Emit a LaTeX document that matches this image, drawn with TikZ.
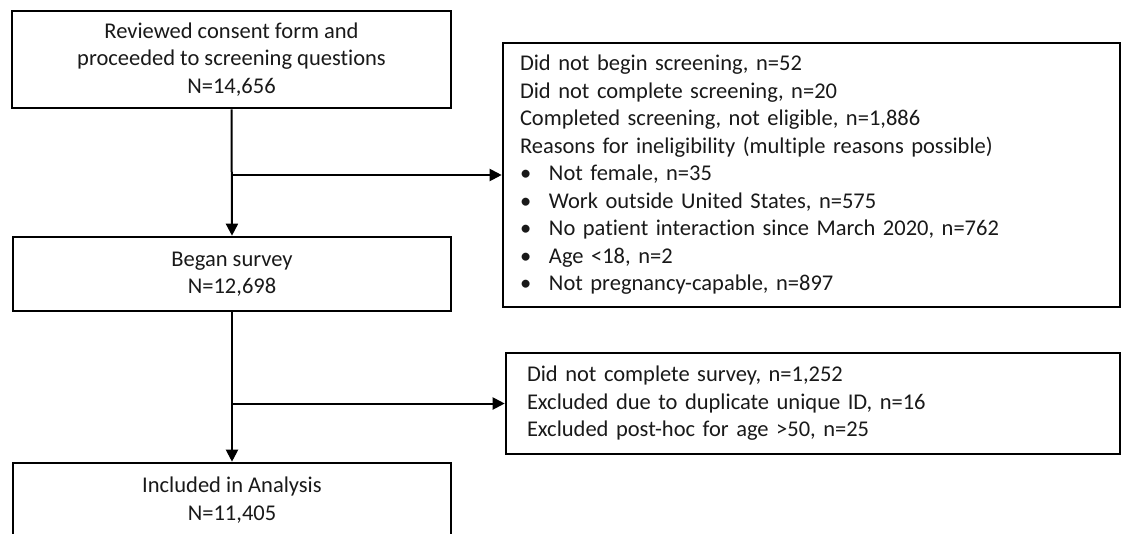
\documentclass[tikz,border=0pt]{standalone}
\usepackage{fontspec}
\setmainfont{Carlito}[Ligatures={NoCommon}]
\usetikzlibrary{arrows.meta}
\begin{document}
\begin{tikzpicture}[x=1pt,y=-1pt,
  box/.style={draw=black,line width=2.6pt,inner sep=0pt,text=black!90,font=\fontsize{22.5}{27.5}\selectfont},
  cbox/.style={box,align=center},
  lbox/.style={box,align=left,text width=#1},
  conn/.style={line width=2pt,draw=black},
  arr/.style={conn,-{Triangle[length=12pt,width=12pt]}}]
\useasboundingbox (0,0) rectangle (1122,533);
\node[cbox,minimum width=439pt,minimum height=97pt] (b1) at (231.5,59.5)
  {Reviewed consent form and\\proceeded to screening questions\\N=14,656};
\node[cbox,minimum width=438pt,minimum height=74pt] (b2) at (232,274)
  {Began survey\\N=12,698};
\node[cbox,minimum width=438pt,minimum height=74pt] (b3) at (232,500)
  {Included in Analysis\\N=11,405};
\node[lbox=583pt,inner xsep=17pt,minimum height=264pt] (r1) at (811.5,175)
  {Did not begin screening, n=52\\
   Did not complete screening, n=20\\
   Completed screening, not eligible, n=1,886\\
   Reasons for ineligibility (multiple reasons possible)\\
   \makebox[29pt][l]{\textbullet}Not female, n=35\\
   \makebox[29pt][l]{\textbullet}Work outside United States, n=575\\
   \makebox[29pt][l]{\textbullet}No patient interaction since March 2020, n=762\\
   \makebox[29pt][l]{\textbullet}Age <18, n=2\\
   \makebox[29pt][l]{\textbullet}Not pregnancy-capable, n=897};
\node[lbox=572pt,inner xsep=21pt,minimum height=101pt] (r2) at (813,403.5)
  {Did not complete survey, n=1,252\\
   Excluded due to duplicate unique ID, n=16\\
   Excluded post-hoc for age >50, n=25};
\coordinate (j1) at (b1.south |- r1.west);
\coordinate (j2) at (b2.south |- r2.west);
\draw[arr] (b1.south) -- (b2.north);
\draw[arr] (j1) -- (r1.west);
\draw[arr] (b2.south) -- (b3.north);
\draw[arr] (j2) -- (r2.west);
\end{tikzpicture}
\end{document}
